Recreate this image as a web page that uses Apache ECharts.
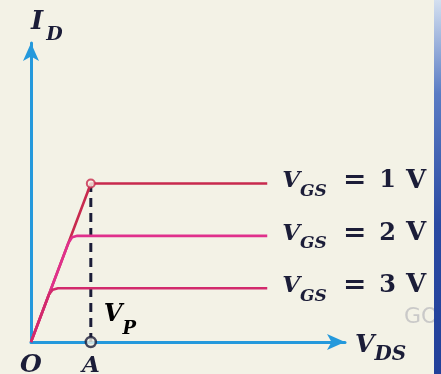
<!DOCTYPE html>
<html>
<head>
<meta charset="utf-8">
<script src="https://cdn.jsdelivr.net/npm/echarts@6/dist/echarts.min.js"></script>
<style>
  html, body { margin: 0; padding: 0; background: #f3f2e6; }
  #chart { width: 441px; height: 374px; }
</style>
</head>
<body>
<div id="chart"></div>
<script>
// JFET output characteristics: I_D against V_DS for three gate voltages.
const vgsLabels = ['1', '2', '3'];
const pinchOff = 4;          // V_P, position of point A on the V_DS axis
const vdsEnd = 15.8;         // where the saturation lines stop
const idSat = [10.6, 7.1, 3.6];

// Each curve: ohmic ramp from the origin, a short knee, then the flat saturation part.
const curve1 = [[0, 0], [3.8, 10.07], [4.0, 10.6], [vdsEnd, 10.6]];
const curve2 = [[0, 0], [2.5, 6.62], [2.75, 7.0], [3.1, 7.1], [vdsEnd, 7.1]];
const curve3 = [[0, 0], [1.2, 3.18], [1.45, 3.5], [1.8, 3.6], [vdsEnd, 3.6]];
const curves = [curve1, curve2, curve3];
const curveColors = ['#c82a4e', '#e0308c', '#d22a6c'];

const serif = '"DejaVu Serif", "Liberation Serif", serif';
const ink = '#1b1d38';
const axisBlue = '#2499dc';
const paper = '#f3f2e6';

// bottom-aligned tokens; bottom padding lifts the main letters above the subscript baseline
const italicBold = { fontFamily: serif, fontStyle: 'italic', fontWeight: 'bold', color: ink, verticalAlign: 'bottom' };
const uprightBold = { fontFamily: serif, fontWeight: 'bold', color: ink, verticalAlign: 'bottom' };
const tok = (base, extra) => Object.assign({}, base, extra);

const labelRich = {
  v: tok(italicBold, { fontSize: 23, padding: [0, 0, 7, 0] }),
  s: tok(italicBold, { fontSize: 17 }),
  e: tok(uprightBold, { fontSize: 28, padding: [0, 13, 5, 16] }),
  n: tok(uprightBold, { fontSize: 24, padding: [0, 10, 7, 0] }),
  u: tok(uprightBold, { fontSize: 26, padding: [0, 0, 6, 0] })
};

const curveSeries = curves.map((pts, i) => ({
  type: 'line',
  data: pts,
  symbol: 'none',
  lineStyle: { color: curveColors[i], width: 2.6 },
  z: 3,
  endLabel: {
    show: true,
    distance: 15,
    offset: [0, 0],
    formatter: () => '{v|V}{s|GS}{e|=}{n|' + vgsLabels[i] + '}{u|V}',
    rich: labelRich
  }
}));

const chart = echarts.init(document.getElementById('chart'), null, { renderer: 'canvas' });
chart.setOption({
  backgroundColor: paper,
  animation: false,
  grid: { left: 31, right: 96, top: 43, bottom: 32, outerBoundsMode: 'none' },
  xAxis: {
    type: 'value', min: 0, max: 21,
    splitLine: { show: false },
    axisTick: { show: false },
    axisLine: { lineStyle: { color: axisBlue, width: 3 }, symbol: ['none', 'arrow'], symbolSize: [12, 18] },
    axisLabel: {
      customValues: [0, pinchOff],
      margin: 11,
      formatter: v => (v === 0 ? '{o|O}' : '{a|A}'),
      rich: {
        o: tok(italicBold, { fontSize: 25, verticalAlign: 'middle' }),
        a: tok(italicBold, { fontSize: 23, verticalAlign: 'middle', padding: [2, 0, 0, 0] })
      }
    },
    name: '{v|V}{s|DS}',
    nameLocation: 'end',
    nameGap: 10,
    nameTextStyle: {
      padding: [14, 0, 0, 0],
      rich: {
        v: tok(italicBold, { fontSize: 25, padding: [0, 0, 7, 0] }),
        s: tok(italicBold, { fontSize: 20 })
      }
    }
  },
  yAxis: {
    type: 'value', min: 0, max: 20,
    splitLine: { show: false },
    axisTick: { show: false },
    axisLabel: { show: false },
    axisLine: { lineStyle: { color: axisBlue, width: 3 }, symbol: ['none', 'arrow'], symbolSize: [12, 18] },
    name: '{i|I}{d|D}',
    nameLocation: 'end',
    nameGap: -2,
    nameTextStyle: {
      align: 'left',
      rich: {
        i: tok(italicBold, { fontSize: 26, padding: [0, 3, 10, 0] }),
        d: tok(italicBold, { fontSize: 19 })
      }
    }
  },
  series: [
    // dashed drop from the pinch-off knee to point A
    {
      type: 'line',
      data: [[pinchOff, 0], [pinchOff, idSat[0]]],
      symbol: 'none',
      lineStyle: { color: ink, width: 3, type: [9, 6] },
      z: 2
    },
    ...curveSeries,
    // open circles at the knee and at A
    {
      type: 'scatter',
      data: [[pinchOff, idSat[0]]],
      symbol: 'circle', symbolSize: 8,
      itemStyle: { color: paper, borderColor: curveColors[0], borderWidth: 2 },
      z: 5
    },
    {
      type: 'scatter',
      data: [[pinchOff, 0]],
      symbol: 'circle', symbolSize: 10,
      itemStyle: { color: paper, borderColor: ink, borderWidth: 2.5 },
      z: 5
    }
  ],
  graphic: [
    {
      type: 'rect', right: 0, top: 0, z: 10,
      shape: { width: 7, height: 374 },
      style: {
        fill: new echarts.graphic.LinearGradient(0, 0, 0, 1, [
          { offset: 0, color: '#d4e0f0' },
          { offset: 0.25, color: '#5a7cc4' },
          { offset: 0.6, color: '#2a4aa2' },
          { offset: 1, color: '#22409a' }
        ])
      }
    },
    {
      type: 'text', left: 404, top: 306, z: 9,
      style: { text: 'GO', font: '22px "DejaVu Sans", sans-serif', fill: 'rgba(150,150,165,0.45)' }
    }
  ]
});

// V_P caption placed beside the dashed line, anchored at the pinch-off voltage
const vpAnchor = chart.convertToPixel({ gridIndex: 0 }, [pinchOff, 1.4]);
chart.setOption({
  graphic: [
    {
      type: 'text', id: 'vp', x: vpAnchor[0] + 13, y: vpAnchor[1] - 18, z: 6,
      style: {
        text: '{v|V}{s|P}',
        rich: {
          v: tok(italicBold, { fontSize: 24, padding: [0, 0, 11, 0] }),
          s: tok(italicBold, { fontSize: 18 })
        }
      }
    }
  ]
});
</script>
</body>
</html>
